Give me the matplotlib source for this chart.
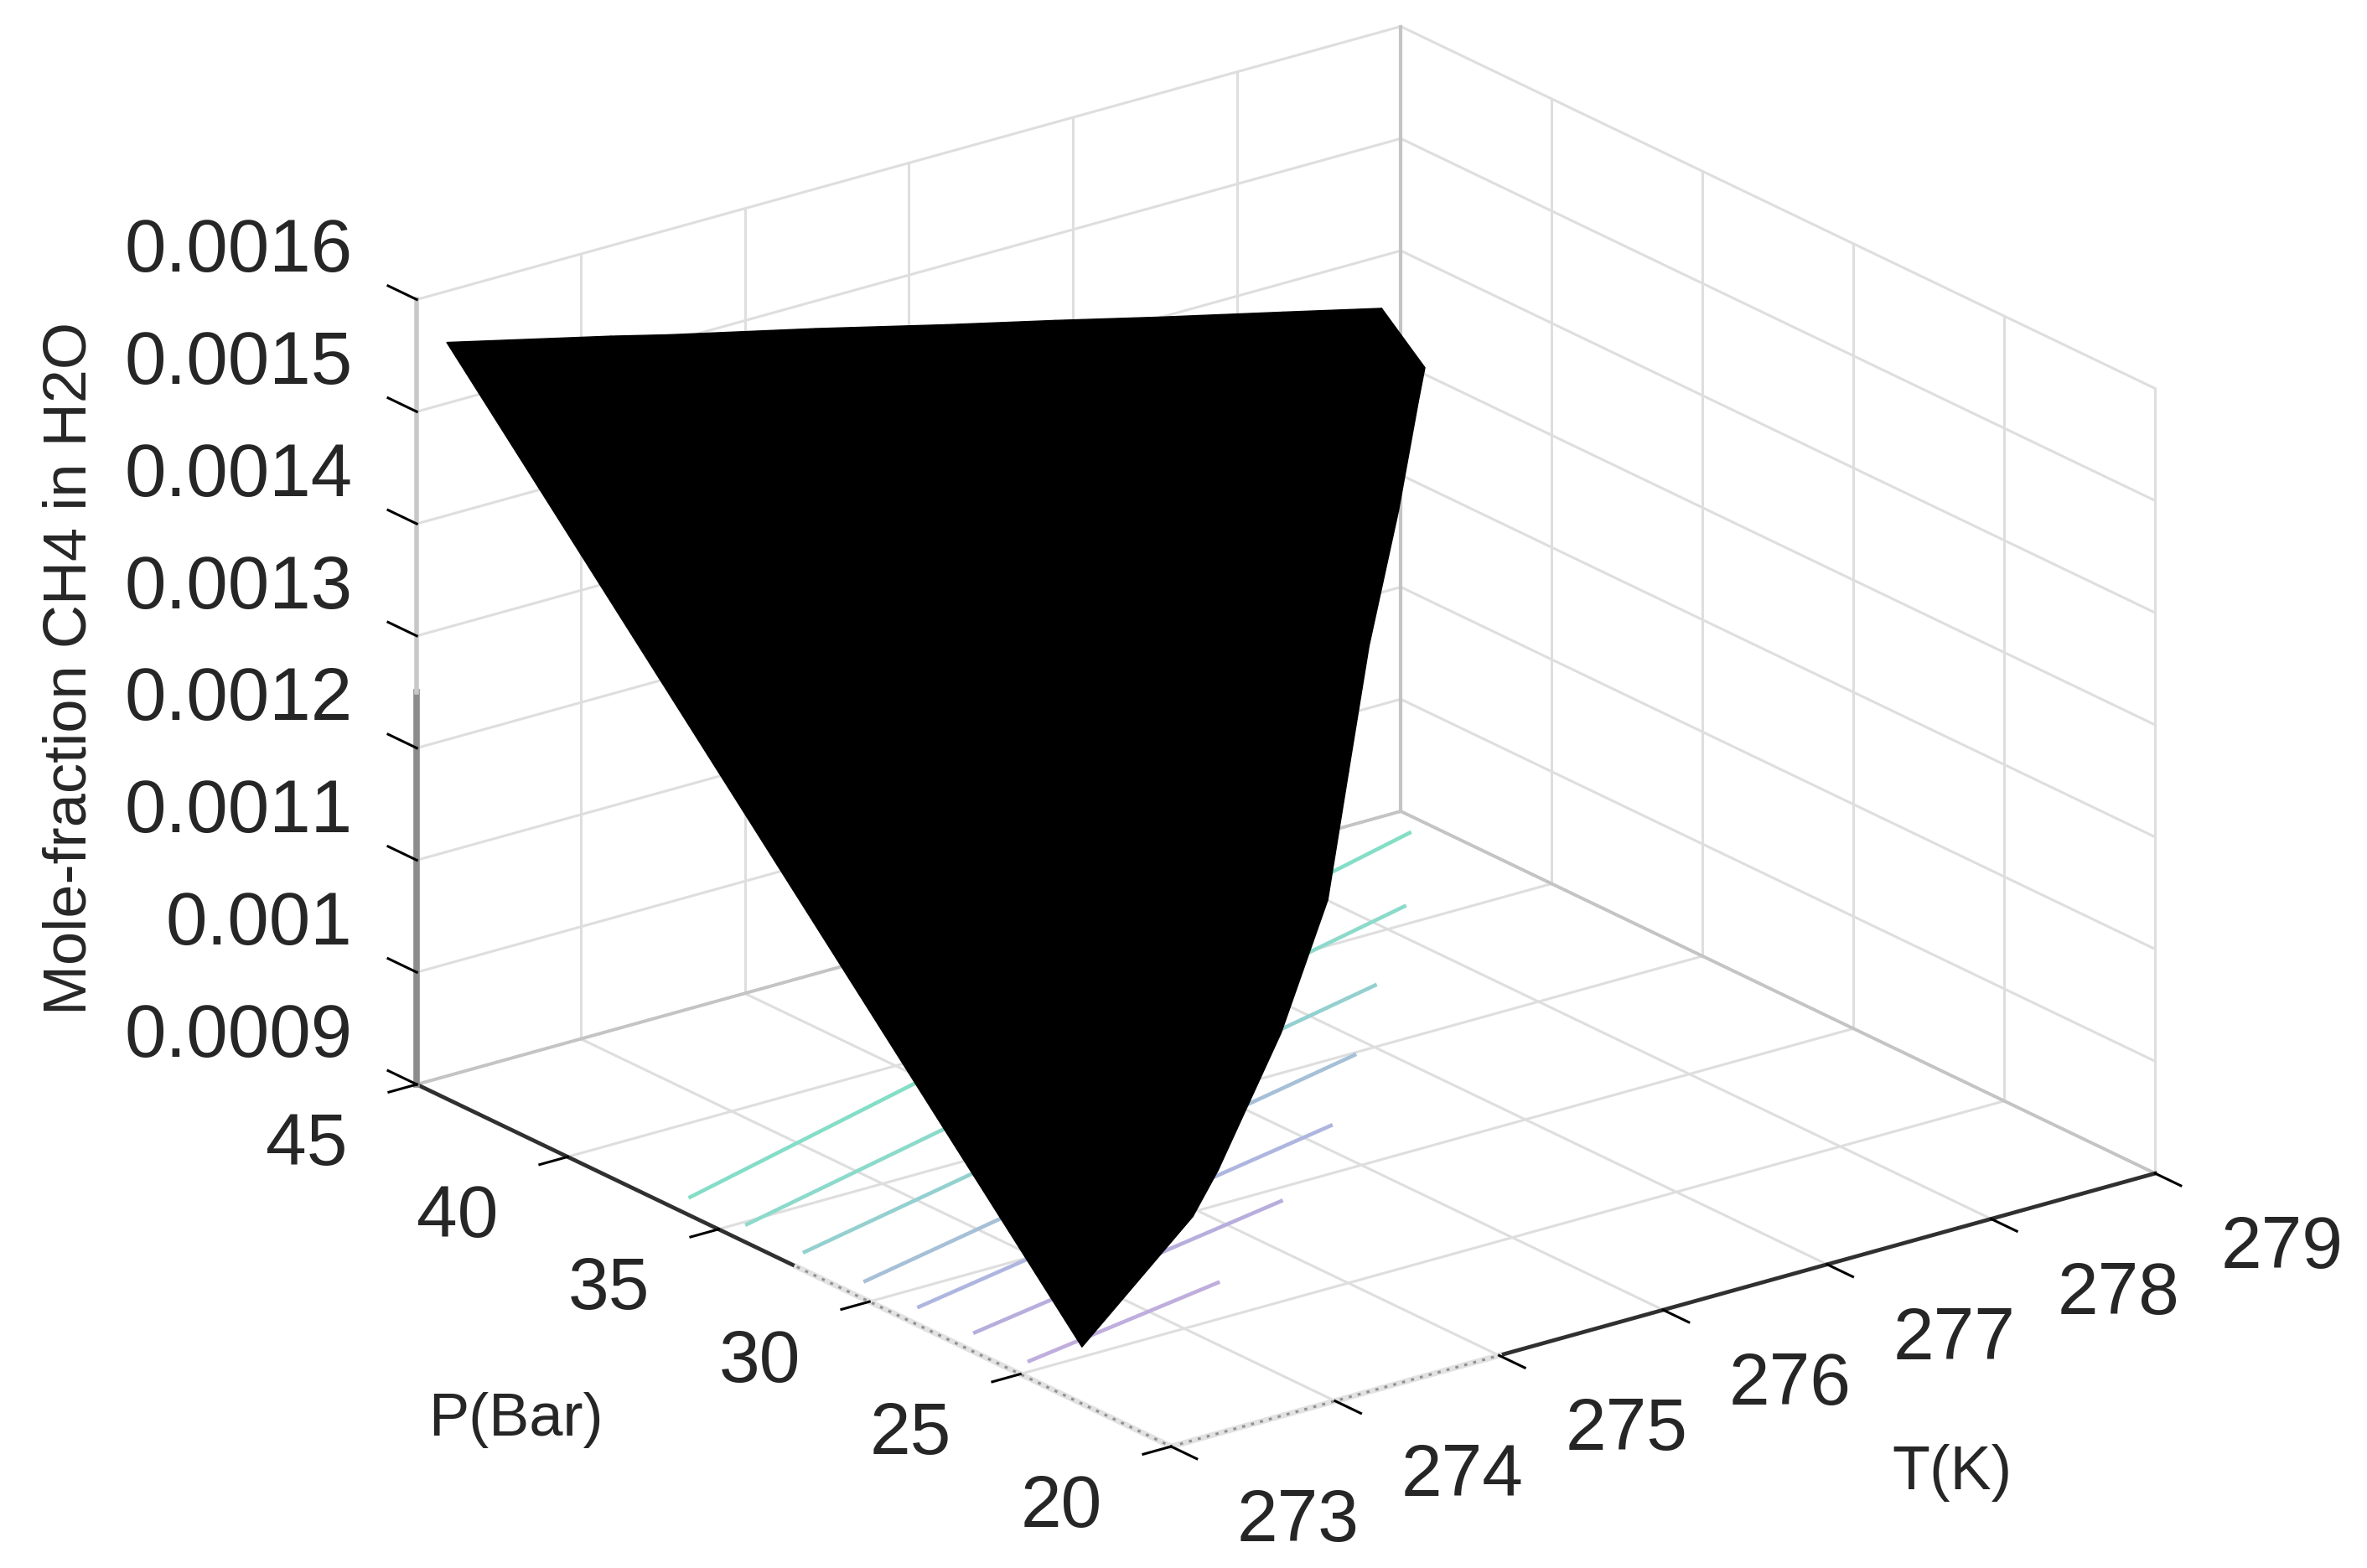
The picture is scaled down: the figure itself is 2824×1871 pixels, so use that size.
import numpy as np
import matplotlib
matplotlib.use('Agg')
import matplotlib.pyplot as plt
from mpl_toolkits.mplot3d import proj3d

# axis ticks
t_ticks = [273, 274, 275, 276, 277, 278, 279]
p_ticks = [20, 25, 30, 35, 40, 45]
z_ticks = [0.0009, 0.0010, 0.0011, 0.0012, 0.0013, 0.0014, 0.0015, 0.0016]
z_labels = ['0.0009', '0.001', '0.0011', '0.0012', '0.0013', '0.0014', '0.0015', '0.0016']

# surface, one column per temperature, from the low pressure edge to the high one
t_col = [273.15, 274.15, 274.5, 275.4, 276.2, 276.86, 277.5, 278.25, 278.85, 279.0]
p_low = [23.77, 25.53, 26.6, 29.4, 32.2, 35.1, 37.9, 41.0, 43.6, 44.2]
p_high = [44.82, 44.82, 44.82, 44.82, 44.82, 44.82, 44.82, 44.82, 44.82, 44.2]
z_low = [0.000934, 0.000987, 0.0010, 0.00105, 0.0011, 0.00115, 0.0012, 0.00125, 0.00129, 0.001306]
z_high = [0.001558, 0.001523, 0.001510, 0.001479, 0.001450, 0.001427, 0.001404, 0.001378, 0.001357, 0.001306]

# contour lines on the floor
c_t_start = [273.14, 273.16, 273.15, 273.15, 273.15, 273.15, 273.15]
c_p_start = [25.46, 27.37, 29.17, 30.95, 32.96, 34.87, 36.75]
c_t_end = [274.5, 275.4, 276.2, 276.86, 277.5, 278.25, 278.86]
c_p_end = [26.6, 29.4, 32.1, 34.9, 37.7, 40.8, 43.95]
c_colors = ['#bfaedd', '#b8aedd', '#aeb6e0', '#a6c0d8', '#94d0d0', '#8cdacb', '#84dec6']

t_min, t_max = 273, 279
p_min, p_max = 20, 45
z_min, z_max = 0.0009, 0.0016

W, H = 2824, 1871
txt = '#262626'
grid_c = '#dedede'
plt.rcParams['font.family'] = ['Liberation Sans', 'DejaVu Sans']
plt.rcParams['text.kerning_factor'] = 6

fig = plt.figure(figsize=(W / 100, H / 100), dpi=100)
S = 2255.5
ax = fig.add_axes([376 / W, -166 / H, S / W, S / H], projection='3d',
                  proj_type='ortho', computed_zorder=False)
ax.view_init(elev=21.41, azim=-127.25)
ax.set_box_aspect((1475, 1487, 1006))
ax.set_autoscale_on(False)
ax.set_xlim(t_min, t_max, view_margin=0)
ax.set_ylim(p_min, p_max, view_margin=0)
ax.set_zlim(z_min, z_max, view_margin=0)

# ticks and grid are drawn below as plain lines
ax.grid(False)
ax.set_xticks([])
ax.set_yticks([])
ax.set_zticks([])
for axis in (ax.xaxis, ax.yaxis, ax.zaxis):
    axis.set_pane_color((1, 1, 1, 0))
    axis.pane.set_edgecolor('none')
    axis.line.set_color('none')


def label3d(t, p, z, s, **kw):
    # text placed at a 3d point, but kept as a normal 2d text
    x2, y2, _ = proj3d.proj_transform(t, p, z, ax.get_proj())
    ax.text2D(x2, y2, s, transform=ax.transData, va='center', color=txt, **kw)


# grid on floor and the two back walls
for t in t_ticks:
    ax.plot([t, t], [p_min, p_max], [z_min, z_min], color=grid_c, lw=2.2, zorder=1)
    ax.plot([t, t], [p_max, p_max], [z_min, z_max], color=grid_c, lw=2.2, zorder=1)
for p in p_ticks:
    ax.plot([t_min, t_max], [p, p], [z_min, z_min], color=grid_c, lw=2.2, zorder=1)
    ax.plot([t_max, t_max], [p, p], [z_min, z_max], color=grid_c, lw=2.2, zorder=1)
for z in z_ticks:
    ax.plot([t_min, t_max], [p_max, p_max], [z, z], color=grid_c, lw=2.2, zorder=1)
    ax.plot([t_max, t_max], [p_min, p_max], [z, z], color=grid_c, lw=2.2, zorder=1)

# surface
tt = np.column_stack([t_col, t_col])
pp = np.column_stack([p_low, p_high])
zz = np.column_stack([z_low, z_high])
ax.plot_surface(tt, pp, zz, color='black', edgecolor='black', linewidth=1,
                rstride=1, cstride=1, shade=False, zorder=6)

# contours
for i in range(len(c_colors)):
    ax.plot([c_t_start[i], c_t_end[i]], [c_p_start[i], c_p_end[i]], [z_min, z_min],
            color=c_colors[i], lw=3.3, zorder=3)

# box edges at the back
ax.plot([t_min, t_max], [p_max, p_max], [z_min, z_min], color='#c4c4c4', lw=2.8, zorder=2)
ax.plot([t_max, t_max], [p_max, p_min], [z_min, z_min], color='#c4c4c4', lw=2.8, zorder=2)
ax.plot([t_max, t_max], [p_max, p_max], [z_min, z_max], color='#c4c4c4', lw=3, zorder=2)

# axis lines, solid part and the part that comes out stippled
ax.plot([275, t_max], [p_min, p_min], [z_min, z_min], color='#303030', lw=3.4, zorder=4)
ax.plot([t_min, 275], [p_min, p_min], [z_min, z_min], color='#e2e2e2', lw=5, zorder=4)
ax.plot([t_min, 275], [p_min, p_min], [z_min, z_min], color='#909090', lw=2.2,
        ls=(0, (1.2, 2.4)), zorder=4)
ax.plot([t_min, t_min], [p_max, 32.4], [z_min, z_min], color='#303030', lw=3.4, zorder=4)
ax.plot([t_min, t_min], [32.4, p_min], [z_min, z_min], color='#e2e2e2', lw=5, zorder=4)
ax.plot([t_min, t_min], [32.4, p_min], [z_min, z_min], color='#909090', lw=2.2,
        ls=(0, (1.2, 2.4)), zorder=4)
ax.plot([t_min, t_min], [p_max, p_max], [z_min, 0.00125], color='#8c8c8c', lw=5.5, zorder=4)
ax.plot([t_min, t_min], [p_max, p_max], [0.00125, z_max], color='#c8c8c8', lw=4, zorder=4)

# ticks and their labels
for t in t_ticks:
    ax.plot([t, t], [p_min, p_min - 0.85], [z_min, z_min], color='black', lw=2.2, zorder=5)
    label3d(t - 0.025, p_min - 4.35, z_min - 1.05e-5, str(t), ha='center', fontsize=63)
for p in p_ticks:
    ax.plot([t_min, t_min - 0.17], [p, p], [z_min, z_min], color='black', lw=2.2, zorder=5)
    label3d(t_min - 0.67, p, z_min - 2.75e-5, str(p), ha='center', fontsize=63)
for z, lab in zip(z_ticks, z_labels):
    ax.plot([t_min, t_min], [p_max, p_max + 0.95], [z, z], color='black', lw=2.2, zorder=5)
    label3d(t_min, p_max + 2.13, z + 1.45e-5, lab, ha='right', fontsize=64)

fig.text(615 / W, 1 - 1695 / H, 'P(Bar)', ha='center', va='center', fontsize=52, color=txt)
fig.text(2329 / W, 1 - 1758 / H, 'T(K)', ha='center', va='center', fontsize=53, color=txt)
fig.text(84 / W, 1 - 797 / H, 'Mole-fraction CH4 in H2O', ha='center', va='center',
         rotation=90, fontsize=52, color=txt)

fig.savefig('out.png', dpi=100)
